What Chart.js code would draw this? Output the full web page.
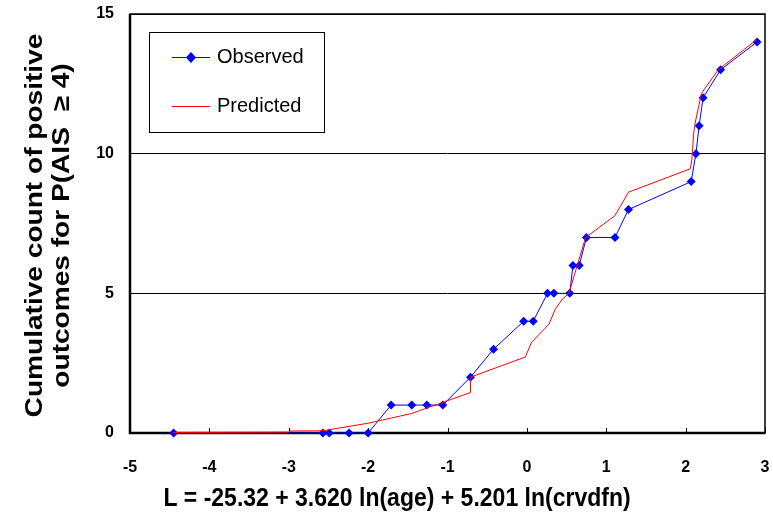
<!DOCTYPE html>
<html>
<head>
<meta charset="utf-8">
<script src="https://cdn.jsdelivr.net/npm/chart.js@4"></script>
<style>
  html, body { margin: 0; padding: 0; background: #fff; }
  #wrap { width: 773px; height: 521px; }
</style>
</head>
<body>
<div id="wrap"><canvas id="grafico" width="773" height="521"></canvas></div>
<script>
// L values and cumulative counts
const obsL = [-4.45, -2.57, -2.49, -2.24, -2.00, -1.71, -1.45, -1.26, -1.06, -0.71, -0.42, -0.04, 0.08,
              0.26, 0.34, 0.54, 0.58, 0.66, 0.75, 1.11, 1.28, 2.07, 2.13, 2.17, 2.22, 2.44, 2.90];
const obsCount = [0, 0, 0, 0, 0, 1, 1, 1, 1, 2, 3, 4, 4, 5, 5, 5, 6, 6, 7, 7, 8, 9, 10, 11, 12, 13, 14];

const predL = [-4.45, -3.0, -2.98, -2.57, -2.0, -1.45, -0.71, -0.71, -0.02, 0.06, 0.28, 0.36, 0.45, 0.53,
               0.74, 1.11, 1.28, 2.06, 2.08, 2.10, 2.12, 2.20, 2.41, 2.89];
const predCount = [0.02, 0.03, 0.07, 0.08, 0.35, 0.7, 1.45, 2.0, 2.72, 3.25, 3.9, 4.45, 4.8, 5.0,
                   7.0, 7.78, 8.62, 9.46, 9.82, 10.7, 11.1, 12.16, 13.0, 14.07];

const xTicks = [-5, -4, -3, -2, -1, 0, 1, 2, 3];
const yTicks = [0, 5, 10, 15];

const tituloX = 'L = -25.32 + 3.620 ln(age) + 5.201 ln(crvdfn)';
const tituloY = ['Cumulative count of positive', 'outcomes for P(AIS  \u2265 4)'];

const fonte = 'Arial, "Liberation Sans", sans-serif';

// box round the plot + inward ticks on the L axis (drawn under the lines)
const moldura = {
    id: 'moldura',
    beforeDatasetsDraw(chart) {
        const ctx = chart.ctx;
        const a = chart.chartArea;
        const sx = chart.scales.x;
        ctx.save();
        ctx.strokeStyle = '#000';
        ctx.lineWidth = 1.5;
        ctx.strokeRect(a.left, a.top, a.right - a.left, a.bottom - a.top);
        ctx.lineWidth = 2.5;
        ctx.beginPath();
        ctx.moveTo(a.left, a.top);
        ctx.lineTo(a.left, a.bottom);
        ctx.lineTo(a.right, a.bottom);
        ctx.stroke();
        ctx.lineWidth = 1;
        xTicks.forEach(v => {
            const px = Math.round(sx.getPixelForValue(v)) + 0.5;
            ctx.beginPath();
            ctx.moveTo(px, a.bottom);
            ctx.lineTo(px, a.bottom - 5);
            ctx.stroke();
        });
        ctx.restore();
    }
};

// axis titles, a bit stretched like the original picture
const titulos = {
    id: 'titulos',
    afterDraw(chart) {
        const ctx = chart.ctx;
        const a = chart.chartArea;
        ctx.save();
        ctx.fillStyle = '#000';
        ctx.textAlign = 'center';
        ctx.textBaseline = 'alphabetic';
        ctx.font = 'bold 23px ' + fonte;
        ctx.save();
        ctx.translate(397, 506);
        ctx.scale(1, 1.12);
        ctx.fillText(tituloX, 0, 0);
        ctx.restore();

        ctx.font = 'bold 24px ' + fonte;
        ctx.textBaseline = 'middle';
        const meio = (a.top + a.bottom) / 2 + 2;
        [35, 62].forEach((x, i) => {
            ctx.save();
            ctx.translate(x, meio);
            ctx.rotate(-Math.PI / 2);
            ctx.scale(1.17, 1);
            ctx.fillText(tituloY[i], 0, 0);
            ctx.restore();
        });
        ctx.restore();
    }
};

// legend box like the original
const legenda = {
    id: 'legenda',
    afterDraw(chart) {
        const ctx = chart.ctx;
        ctx.save();
        ctx.fillStyle = '#fff';
        ctx.fillRect(149, 32, 175, 100);
        ctx.strokeStyle = '#000';
        ctx.lineWidth = 1;
        ctx.strokeRect(149.5, 32.5, 175, 100);

        ctx.strokeStyle = '#0000ff';
        ctx.beginPath();
        ctx.moveTo(172, 57.5);
        ctx.lineTo(210, 57.5);
        ctx.stroke();
        ctx.fillStyle = '#0000ff';
        ctx.beginPath();
        ctx.moveTo(191, 52);
        ctx.lineTo(196, 57.5);
        ctx.lineTo(191, 63);
        ctx.lineTo(186, 57.5);
        ctx.closePath();
        ctx.fill();

        ctx.strokeStyle = '#ff0000';
        ctx.beginPath();
        ctx.moveTo(172, 106.5);
        ctx.lineTo(210, 106.5);
        ctx.stroke();

        ctx.fillStyle = '#000';
        ctx.font = '20px ' + fonte;
        ctx.textBaseline = 'middle';
        ctx.fillText('Observed', 217, 57);
        ctx.fillText('Predicted', 217, 106);
        ctx.restore();
    }
};

new Chart(document.getElementById('grafico').getContext('2d'), {
    type: 'scatter',
    data: {
        datasets: [{
            label: 'Observed',
            data: obsL.map((v, i) => ({ x: v, y: obsCount[i] })),
            showLine: true,
            borderColor: '#0000ff',
            borderWidth: 1,
            backgroundColor: '#0000ff',
            pointStyle: 'rectRot',
            pointRadius: 4.5,
            pointBorderWidth: 0,
            clip: false,
            order: 2
        }, {
            label: 'Predicted',
            data: predL.map((v, i) => ({ x: v, y: predCount[i] })),
            showLine: true,
            borderColor: '#ff0000',
            borderWidth: 1,
            pointRadius: 0,
            clip: false,
            order: 1
        }]
    },
    options: {
        responsive: false,
        animation: false,
        layout: { padding: { top: 14, right: 8, left: 0, bottom: 0 } },
        plugins: { legend: { display: false }, tooltip: { enabled: false } },
        scales: {
            x: {
                type: 'linear',
                min: -5, max: 3,
                afterBuildTicks: s => { s.ticks = xTicks.map(v => ({ value: v })); },
                afterFit: s => { s.height = 88; s.paddingLeft = 0; s.paddingRight = 0; },
                grid: { display: false },
                border: { display: false },
                ticks: {
                    color: '#000',
                    font: { family: fonte, size: 16, weight: 'bold' },
                    padding: 17,
                    maxRotation: 0
                }
            },
            y: {
                min: 0, max: 15,
                afterBuildTicks: s => { s.ticks = yTicks.map(v => ({ value: v })); },
                afterFit: s => { s.width = 130; s.paddingTop = 0; s.paddingBottom = 0; },
                grid: {
                    color: '#000',
                    lineWidth: 1,
                    drawTicks: false
                },
                border: { display: false },
                ticks: {
                    color: '#000',
                    font: { family: fonte, size: 16, weight: 'bold' },
                    padding: 16
                }
            }
        }
    },
    plugins: [moldura, titulos, legenda]
});
</script>
</body>
</html>
